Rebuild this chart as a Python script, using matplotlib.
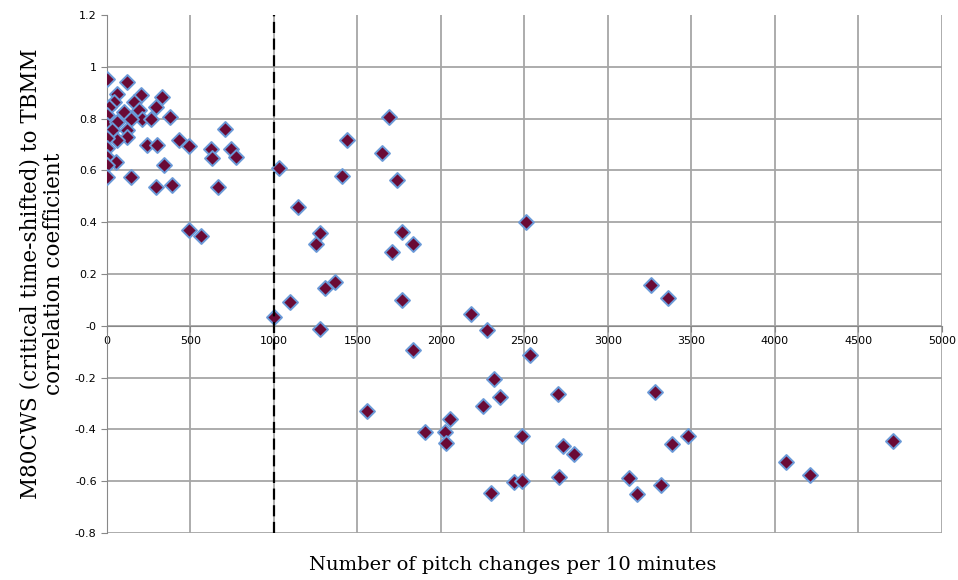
import numpy as np
import matplotlib.pyplot as plt

# pitch changes per 10 minutes
pitch = [0, 122, 62, 206, 328, 42, 162, 292, 12, 102, 192, 378, 2, 210, 265,
         142, 0, 62, 32, 122, 122, 62, 0, 242, 302, 432, 0, 0, 52, 0,
         342, 142, 0, 292, 392, 490, 706, 620, 740, 630, 770, 666, 490, 566,
         1002, 1030, 1094, 1146, 1252, 1276, 1276, 1308, 1366, 1406, 1440,
         1555, 1648, 1692, 1710, 1740, 1766, 1766, 1830, 1830, 1902,
         2022, 2028, 2052, 2180, 2250, 2274, 2300, 2316, 2354, 2440, 2486,
         2486, 2512, 2536, 2700, 2710, 2730, 2796,
         3126, 3176, 3256, 3280, 3316, 3360, 3386, 3482, 4070, 4210, 4706]

# correlation coefficient
corr = [0.955, 0.942, 0.897, 0.89, 0.884, 0.865, 0.865, 0.846, 0.846, 0.826, 0.833, 0.807, 0.814, 0.80, 0.80,
        0.80, 0.775, 0.788, 0.756, 0.756, 0.73, 0.717, 0.724, 0.698, 0.698, 0.717, 0.685, 0.653, 0.634, 0.62,
        0.62, 0.576, 0.576, 0.536, 0.544, 0.696, 0.762, 0.684, 0.684, 0.648, 0.652, 0.538, 0.37, 0.345,
        0.036, 0.61, 0.094, 0.458, 0.316, 0.357, -0.013, 0.148, 0.168, 0.58, 0.719,
        -0.33, 0.667, 0.806, 0.286, 0.565, 0.361, 0.10, 0.316, -0.093, -0.408,
        -0.408, -0.452, -0.36, 0.045, -0.31, -0.017, -0.647, -0.207, -0.274, -0.602, -0.598,
        -0.425, 0.40, -0.113, -0.265, -0.583, -0.465, -0.493,
        -0.588, -0.651, 0.156, -0.256, -0.616, 0.107, -0.455, -0.427, -0.524, -0.576, -0.446]

threshold = 1000
xticks = np.arange(0, 5001, 500)
yticks = np.round(np.arange(-0.8, 1.21, 0.2), 1)

fig = plt.figure(figsize=(9.58, 5.8), dpi=100)
ax = fig.add_axes([0.1117, 0.081, 0.8713, 0.893])

ax.scatter(pitch, corr, marker='D', s=58, facecolor='#6a0a35',
           edgecolor='#6a9ad8', linewidths=1.4, zorder=3)
ax.axvline(threshold, color='black', lw=1.6, dashes=(5, 2.5), zorder=4)

ax.set_xlim(0, 5000)
ax.set_ylim(-0.8, 1.2)
ax.set_xticks(xticks)
ax.set_yticks(yticks)
ax.set_yticklabels([f'{v:g}' for v in yticks])

ax.grid(True, color='#a6a6a6', lw=1.3, zorder=0)
ax.yaxis.get_gridlines()[-1].set_visible(False)

for s in ['top', 'right']:
    ax.spines[s].set_visible(False)
ax.spines['bottom'].set_position(('data', 0))
ax.spines['bottom'].set_color('#888888')
ax.spines['left'].set_color('#888888')
ax.tick_params(axis='both', colors='#888888', labelcolor='black', labelsize=8, length=4)
ax.tick_params(axis='x', pad=3)

ax.set_xlabel('Number of pitch changes per 10 minutes', family='DejaVu Serif', fontsize=14)
ax.xaxis.set_label_coords(0.486, -0.045)
ax.set_ylabel('M80CWS (critical time-shifted) to TBMM\ncorrelation coefficient',
              family='DejaVu Serif', fontsize=15.5, linespacing=1.1)
ax.yaxis.set_label_coords(-0.05, 0.5)

plt.savefig('out.png', dpi=100)
